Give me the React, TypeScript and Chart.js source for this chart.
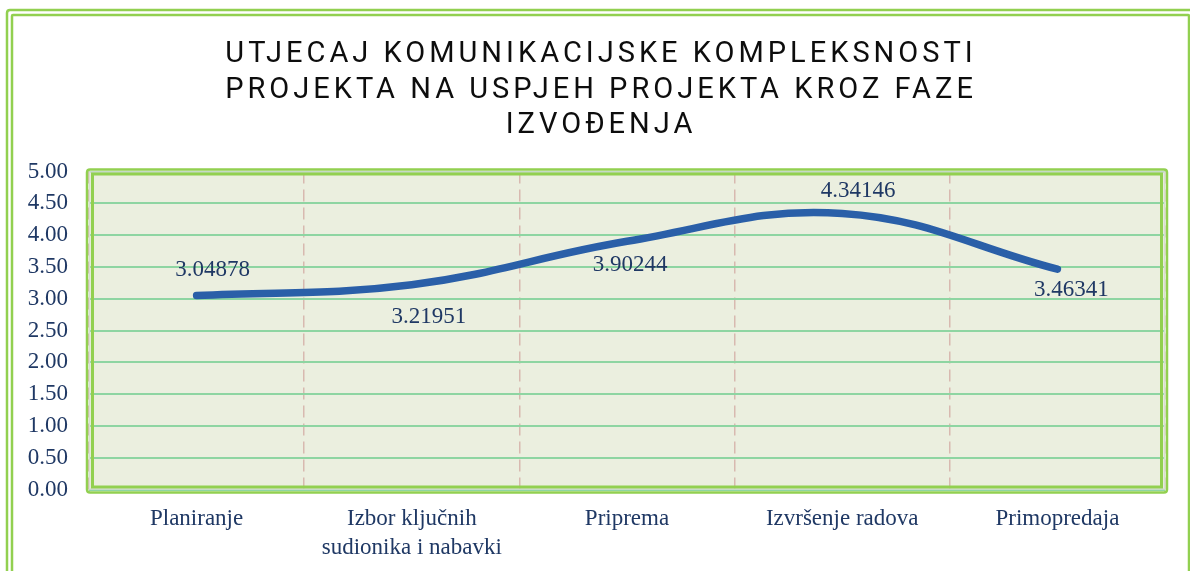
import React, { useEffect, useRef } from "react";
import { Chart, registerables } from "chart.js";

Chart.register(...registerables);

const titleLines = [
  "UTJECAJ KOMUNIKACIJSKE KOMPLEKSNOSTI",
  "PROJEKTA NA USPJEH PROJEKTA KROZ FAZE",
  "IZVOĐENJA",
];
const categories: (string | string[])[] = [
  "Planiranje",
  ["Izbor ključnih", "sudionika i nabavki"],
  "Priprema",
  "Izvršenje radova",
  "Primopredaja",
];
const values = [3.04878, 3.21951, 3.90244, 4.34146, 3.46341];
const yMin = 0;
const yMax = 5;
const yStep = 0.5;

const GREEN = "#92D050";
const NAVY = "#1F3864";
const LINE = "#2A5FA8";

const labelOffsets = [
  { dx: 16, dy: -26 },
  { dx: 17, dy: 32 },
  { dx: 3, dy: 24 },
  { dx: 16, dy: -22 },
  { dx: 14, dy: 21 },
];

function strokeRoundRect(ctx: CanvasRenderingContext2D, x: number, y: number, w: number, h: number, r: number) {
  ctx.beginPath();
  ctx.moveTo(x + r, y);
  ctx.lineTo(x + w - r, y);
  ctx.quadraticCurveTo(x + w, y, x + w, y + r);
  ctx.lineTo(x + w, y + h - r);
  ctx.quadraticCurveTo(x + w, y + h, x + w - r, y + h);
  ctx.lineTo(x + r, y + h);
  ctx.quadraticCurveTo(x, y + h, x, y + h - r);
  ctx.lineTo(x, y + r);
  ctx.quadraticCurveTo(x, y, x + r, y);
  ctx.closePath();
  ctx.stroke();
}

const backgroundPlugin = {
  id: "bgFrame",
  beforeDraw(chart: any) {
    const { ctx, chartArea } = chart;
    const { left, top, right, bottom } = chartArea;
    ctx.save();
    ctx.fillStyle = "#FFFFFF";
    ctx.fillRect(0, 0, chart.width, chart.height);
    ctx.strokeStyle = GREEN;
    ctx.lineWidth = 2.5;
    strokeRoundRect(ctx, 7, 10, 1188, 600, 3);
    strokeRoundRect(ctx, 12, 15, 1177, 590, 1);
    ctx.fillStyle = "#EBEFDF";
    ctx.fillRect(left, top, right - left, bottom - top);
    ctx.restore();
  },
  beforeDatasetsDraw(chart: any) {
    const { ctx, chartArea } = chart;
    const { left, top, right, bottom } = chartArea;
    ctx.save();
    ctx.strokeStyle = "#D9DCD3";
    ctx.lineWidth = 1.5;
    ctx.strokeRect(left + 0.5, top + 0.5, right - left - 1, bottom - top - 1);
    ctx.strokeStyle = GREEN;
    ctx.lineWidth = 2.5;
    strokeRoundRect(ctx, left - 2, top - 2, right - left + 4, bottom - top + 5, 3);
    ctx.lineWidth = 3;
    ctx.strokeRect(left + 3.5, top + 2.5, right - left - 7, bottom - top - 5);
    ctx.restore();
  },
};

const dataLabelPlugin = {
  id: "dataLabels",
  afterDatasetsDraw(chart: any) {
    const { ctx } = chart;
    const meta = chart.getDatasetMeta(0);
    ctx.save();
    ctx.font = '23px "Liberation Serif"';
    ctx.fillStyle = NAVY;
    ctx.textAlign = "center";
    ctx.textBaseline = "middle";
    meta.data.forEach((pt: any, i: number) => {
      const off = labelOffsets[i];
      ctx.fillText(String(values[i]), pt.x + off.dx, pt.y + off.dy);
    });
    ctx.restore();
  },
};

const titlePlugin = {
  id: "letterTitle",
  afterDraw(chart: any) {
    const { ctx } = chart;
    ctx.save();
    ctx.font = '29px "Roboto"';
    (ctx as any).letterSpacing = "4px";
    ctx.fillStyle = "#0D0D0D";
    ctx.textAlign = "center";
    ctx.textBaseline = "middle";
    titleLines.forEach((line, i) => {
      ctx.fillText(line, 601, 55 + i * 35.5);
    });
    ctx.restore();
  },
};

export default function App() {
  const canvasRef = useRef<HTMLCanvasElement | null>(null);

  useEffect(() => {
    if (!canvasRef.current) return;
    const chart = new Chart(canvasRef.current, {
      type: "line",
      data: {
        labels: categories,
        datasets: [
          {
            data: values,
            borderColor: LINE,
            borderWidth: 7.5,
            borderCapStyle: "round",
            borderJoinStyle: "round",
            tension: 0.4,
            pointRadius: 0,
            pointHoverRadius: 0,
            fill: false,
          },
        ],
      },
      options: {
        animation: false,
        responsive: true,
        maintainAspectRatio: false,
        events: [],
        layout: { padding: { left: 20, right: 25, top: 171.5, bottom: 0 } },
        plugins: {
          legend: { display: false },
          title: { display: false },
          tooltip: { enabled: false },
        },
        scales: {
          x: {
            offset: true,
            grid: {
              offset: true,
              color: "#D8B9B0",
              lineWidth: 1.5,
              drawTicks: false,
            },
            border: { display: false, dash: [12, 6] },
            ticks: {
              color: NAVY,
              font: { family: '"Liberation Serif"', size: 23, lineHeight: 1.25 },
              padding: 15,
              maxRotation: 0,
              autoSkip: false,
            },
            afterFit(s: any) {
              s.height = 81.5;
            },
          },
          y: {
            min: yMin,
            max: yMax,
            grid: { color: "#8ED5A2", lineWidth: 2, drawTicks: false },
            border: { display: false },
            ticks: {
              stepSize: yStep,
              color: NAVY,
              font: { family: '"Liberation Serif"', size: 23 },
              padding: 21,
              callback: (v: any) => Number(v).toFixed(2),
            },
            afterFit(s: any) {
              s.width = 69;
            },
          },
        },
      },
      plugins: [backgroundPlugin, dataLabelPlugin, titlePlugin],
    });
    return () => chart.destroy();
  }, []);

  return (
    <div style={{ position: "fixed", left: 0, top: 0, width: 1190, height: 571, background: "#fff" }}>
      <canvas ref={canvasRef} />
    </div>
  );
}
